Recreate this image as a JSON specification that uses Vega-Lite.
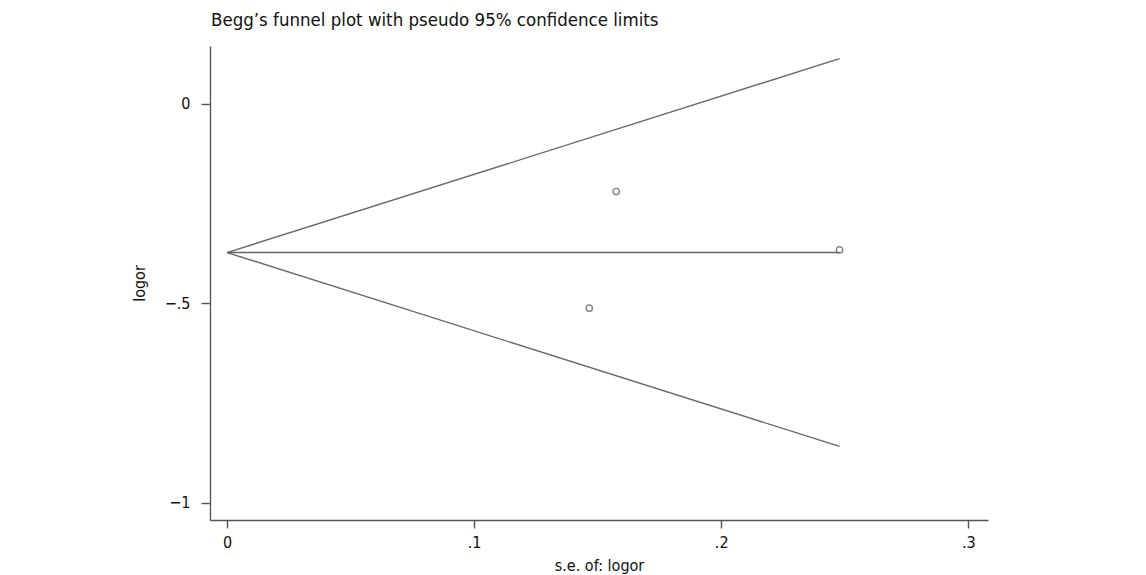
{
  "$schema": "https://vega.github.io/schema/vega-lite/v6.json",
  "autosize": {"type": "none"},
  "padding": {"left": 210, "top": 46, "right": 158, "bottom": 55},
  "width": 778,
  "height": 474,
  "background": "white",
  "config": {
    "view": {"stroke": null},
    "font": "DejaVu Sans Condensed, sans-serif",
    "axis": {"grid": false, "domainColor": "#555", "tickColor": "#555", "labelColor": "#111", "titleColor": "#111", "labelFontSize": 16, "titleFontSize": 16, "titleFontWeight": "normal", "domainWidth": 1.4, "tickWidth": 1.4}
  },
  "title": {"text": "Begg’s funnel plot with pseudo 95% confidence limits", "anchor": "start", "frame": "group", "fontSize": 18.5, "fontWeight": "normal", "color": "#111", "offset": 17, "dx": 1},
  "datasets": {
    "lines": [
      {"series": "upper", "se": 0, "logor": -0.3727},
      {"series": "upper", "se": 0.2479, "logor": 0.1132},
      {"series": "lower", "se": 0, "logor": -0.3727},
      {"series": "lower", "se": 0.2479, "logor": -0.8586},
      {"series": "center", "se": 0, "logor": -0.3727},
      {"series": "center", "se": 0.2479, "logor": -0.3727}
    ],
    "points": [
      {"se": 0.1575, "logor": -0.2198},
      {"se": 0.1466, "logor": -0.512},
      {"se": 0.2479, "logor": -0.366}
    ]
  },
  "layer": [
    {
      "data": {"name": "lines"},
      "mark": {"type": "line", "color": "#666", "strokeWidth": 1.4},
      "encoding": {
        "x": {"field": "se", "type": "quantitative", "scale": {"domain": [-0.0069, 0.308], "nice": false, "zero": false},
              "axis": {"title": "s.e. of: logor", "values": [0, 0.1, 0.2, 0.3], "labelExpr": "replace(format(datum.value, '.1~f'), '0.', '.')", "tickSize": 8, "labelPadding": 6, "titlePadding": 7}},
        "y": {"field": "logor", "type": "quantitative", "scale": {"domain": [-1.043, 0.145], "nice": false, "zero": false},
              "axis": {"title": "logor", "values": [-1, -0.5, 0], "labelExpr": "replace(format(datum.value, '.1~f'), '0.', '.')", "tickSize": 9, "labelPadding": 11, "titlePadding": 17}},
        "detail": {"field": "series"}
      }
    },
    {
      "data": {"name": "points"},
      "mark": {"type": "point", "shape": "circle", "filled": false, "color": "#555", "size": 40, "strokeWidth": 1.4},
      "encoding": {
        "x": {"field": "se", "type": "quantitative"},
        "y": {"field": "logor", "type": "quantitative"}
      }
    }
  ]
}
